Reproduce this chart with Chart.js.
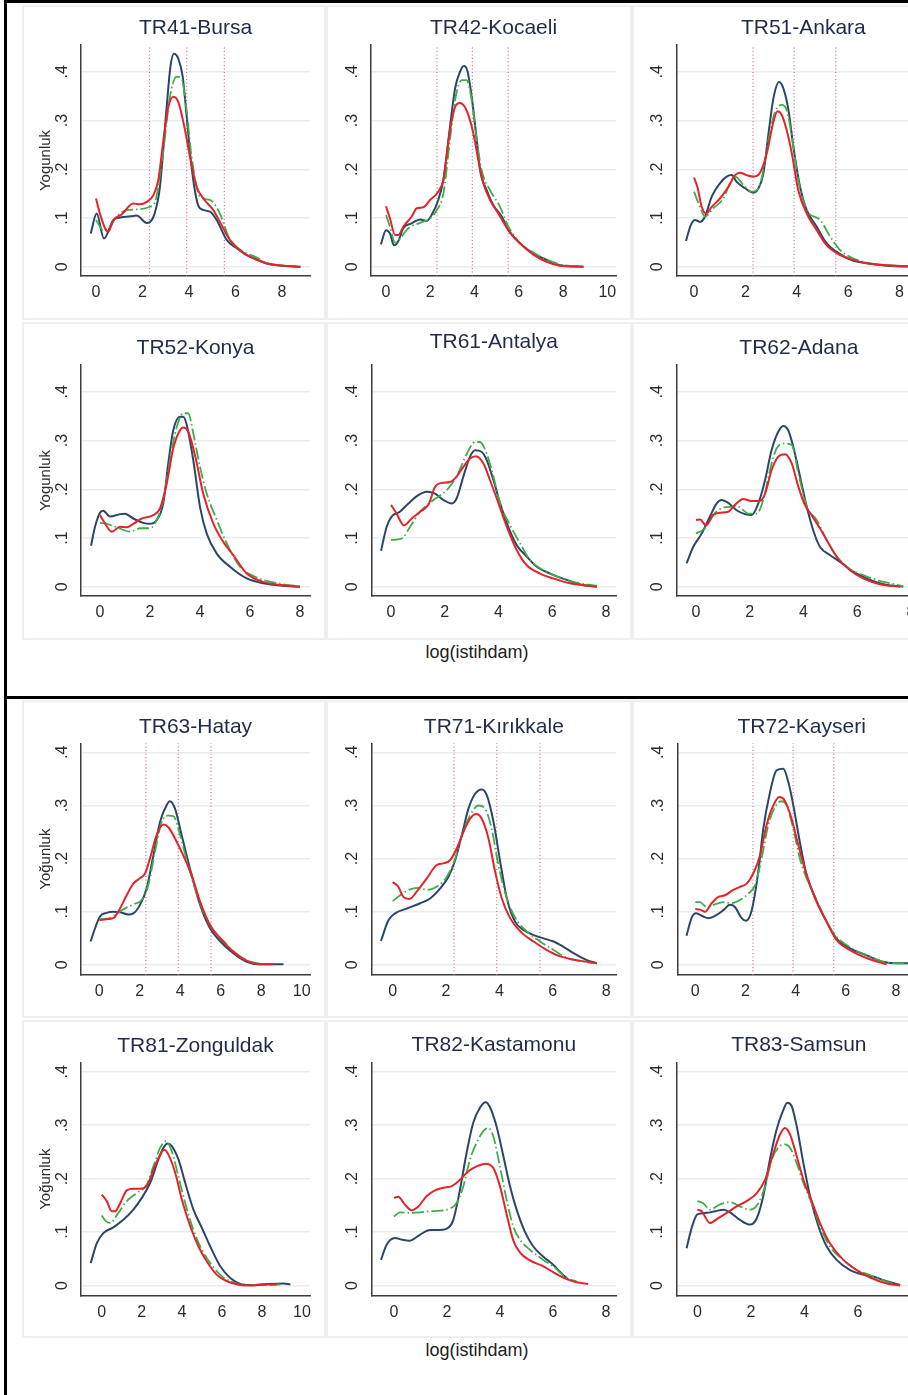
<!DOCTYPE html>
<html>
<head>
<meta charset="utf-8">
<script src="https://cdn.jsdelivr.net/npm/chart.js@4.4.1/dist/chart.umd.min.js"></script>
<style>
  html, body { margin: 0; padding: 0; background: #fff; }
  body { width: 908px; height: 1395px; overflow: hidden; position: relative; font-family: "Liberation Sans", Arial, sans-serif; }
  .box { position: absolute; border: 2px solid #edf0f3; box-sizing: border-box; }
  canvas { position: absolute; }
  .rule { position: absolute; background: #000; }
  .xtitle { position: absolute; width: 300px; text-align: center; font-size: 18px; line-height: 20px; color: #222; }
</style>
</head>
<body>
<div class="rule" style="left:4px;top:0;width:904px;height:3px"></div>
<div class="rule" style="left:4px;top:696px;width:904px;height:3px"></div>
<div class="rule" style="left:4px;top:0;width:3px;height:1395px"></div>
<div class="xtitle" style="left:327px;top:642px">log(istihdam)</div>
<div class="xtitle" style="left:327px;top:1340px">log(istihdam)</div>
<script>
(() => {
  if (!window.Chart) return;

  // density curves, [log(istihdam), density]
  const tr41Navy = [[-0.23,.068],[0.03,.109],[0.34,.058],[0.75,.096],[1.03,.101],[1.6,.104],[1.75,.105],[2.18,.09],[2.32,.092],[2.5,.106],[2.75,.164],[3.04,.328],[3.2,.41],[3.35,.437],[3.54,.427],[3.73,.39],[3.9,.308],[4.11,.205],[4.33,.137],[4.47,.12],[4.9,.113],[5.19,.096],[5.62,.055],[6.05,.038],[6.48,.024],[6.98,.014],[7.3,.007],[8.06,.002],[8.8,0]];
  const tr41Red = [[0,.14],[0.17,.109],[0.43,.075],[0.53,.072],[0.75,.096],[1.1,.107],[1.6,.13],[1.89,.128],[2.18,.133],[2.47,.147],[2.68,.178],[2.9,.26],[3.11,.328],[3.33,.349],[3.54,.338],[3.83,.28],[4.04,.226],[4.33,.164],[4.62,.14],[5.05,.116],[5.33,.092],[5.76,.055],[6.19,.034],[6.77,.017],[7.34,.007],[8.06,.002],[8.77,0]];
  const tr41Green = [[0,.096],[0.32,.075],[0.6,.082],[0.89,.103],[1.32,.116],[1.89,.118],[2.32,.123],[2.54,.133],[2.9,.24],[3.18,.349],[3.47,.39],[3.68,.386],[3.9,.32],[4.11,.226],[4.47,.144],[4.9,.137],[5.33,.109],[5.76,.055],[6.34,.031],[6.91,.019],[7.34,.007],[8.06,.002],[8.77,0]];

  const tr42Navy = [[-0.23,.046],[0,.075],[0.18,.068],[0.36,.044],[0.56,.053],[0.78,.079],[1.16,.089],[1.54,.097],[1.84,.094],[2.06,.106],[2.36,.137],[2.59,.178],[2.89,.287],[3.12,.366],[3.34,.4],[3.52,.412],[3.67,.403],[3.87,.349],[4.1,.26],[4.25,.198],[4.55,.157],[4.85,.126],[5.23,.103],[5.53,.075],[6.05,.048],[6.66,.027],[7.26,.014],[7.86,.003],[8.92,0]];
  const tr42Red = [[0,.124],[0.18,.099],[0.41,.065],[0.56,.065],[0.78,.082],[1.16,.103],[1.39,.12],[1.69,.122],[1.99,.137],[2.36,.154],[2.59,.178],[2.89,.28],[3.12,.328],[3.34,.336],[3.64,.321],[3.95,.273],[4.17,.219],[4.4,.171],[4.7,.137],[5.08,.109],[5.53,.075],[6.05,.048],[6.66,.025],[7.26,.01],[7.86,.002],[8.92,0]];
  const tr42Green = [[0,.106],[0.18,.082],[0.41,.049],[0.63,.058],[1.01,.079],[1.54,.09],[1.99,.099],[2.29,.116],[2.59,.15],[2.89,.26],[3.12,.342],[3.42,.383],[3.64,.383],[3.87,.342],[4.1,.26],[4.32,.198],[4.7,.157],[5.15,.123],[5.53,.082],[6.05,.049],[6.66,.029],[7.26,.015],[7.86,.005],[8.92,0]];

  const tr51Navy = [[-0.31,.053],[-0.13,.085],[0.04,.096],[0.23,.092],[0.43,.103],[0.69,.144],[1.01,.171],[1.27,.185],[1.47,.188],[1.66,.174],[1.99,.161],[2.31,.152],[2.51,.161],[2.7,.191],[2.9,.273],[3.09,.345],[3.31,.379],[3.48,.366],[3.68,.321],[3.87,.246],[4.13,.164],[4.39,.116],[4.78,.082],[5.17,.048],[5.69,.026],[6.21,.012],[6.73,.007],[7.51,.002],[8.8,0]];
  const tr51Red = [[0,.183],[0.13,.164],[0.3,.123],[0.47,.109],[0.69,.123],[1.01,.14],[1.34,.164],[1.6,.188],[1.79,.193],[2.05,.188],[2.31,.185],[2.57,.193],[2.83,.232],[3.06,.29],[3.25,.319],[3.42,.311],[3.61,.28],[3.81,.232],[4.06,.157],[4.39,.109],[4.78,.075],[5.17,.044],[5.69,.024],[6.21,.014],[6.73,.007],[7.51,.003],[8.8,0]];
  const tr51Green = [[0,.154],[0.23,.123],[0.43,.103],[0.75,.12],[1.14,.14],[1.4,.171],[1.6,.185],[1.92,.168],[2.25,.154],[2.51,.161],[2.7,.198],[2.9,.26],[3.16,.318],[3.42,.332],[3.61,.321],[3.81,.267],[4.06,.178],[4.39,.116],[4.91,.096],[5.3,.062],[5.69,.034],[6.21,.017],[6.86,.007],[8.8,0]];

  const tr52Navy = [[-0.36,.084],[-0.2,.123],[0,.152],[0.13,.156],[0.4,.144],[0.8,.149],[1,.15],[1.33,.14],[1.73,.131],[2,.129],[2.27,.137],[2.53,.171],[2.73,.253],[2.93,.321],[3.2,.349],[3.33,.349],[3.47,.332],[3.73,.26],[4,.164],[4.27,.109],[4.67,.068],[5.2,.041],[5.87,.017],[6.53,.007],[7.33,.002],[8,0]];
  const tr52Red = [[0,.147],[0.2,.13],[0.47,.113],[0.8,.123],[1.07,.122],[1.33,.129],[1.67,.14],[2.13,.147],[2.4,.161],[2.67,.212],[2.93,.284],[3.2,.321],[3.33,.327],[3.53,.318],[3.8,.27],[4.13,.191],[4.53,.13],[4.93,.092],[5.33,.065],[5.87,.027],[6.53,.01],[7.33,.003],[8,0]];
  const tr52Green = [[0,.131],[0.27,.129],[0.67,.122],[1.2,.113],[1.6,.12],[2,.12],[2.27,.137],[2.53,.178],[2.8,.26],[3.07,.328],[3.33,.356],[3.53,.356],[3.73,.315],[4,.246],[4.27,.191],[4.67,.137],[5.07,.089],[5.6,.041],[6.27,.019],[6.93,.009],[8,0]];

  const tr61Navy = [[-0.37,.074],[-0.16,.123],[0.02,.144],[0.33,.154],[0.65,.171],[0.96,.186],[1.33,.195],[1.64,.191],[1.95,.178],[2.26,.171],[2.44,.181],[2.69,.226],[2.94,.267],[3.13,.28],[3.37,.277],[3.56,.26],[3.81,.219],[4.06,.171],[4.31,.13],[4.68,.085],[5.05,.062],[5.42,.041],[5.92,.027],[6.54,.014],[7.16,.003],[7.66,0]];
  const tr61Red = [[0,.168],[0.21,.15],[0.48,.126],[0.77,.14],[1.08,.154],[1.39,.168],[1.64,.205],[1.89,.213],[2.2,.215],[2.44,.226],[2.69,.246],[2.94,.263],[3.16,.268],[3.44,.253],[3.68,.219],[4,.171],[4.31,.123],[4.68,.075],[5.05,.044],[5.55,.027],[6.04,.017],[6.66,.007],[7.66,0]];
  const tr61Green = [[0,.096],[0.4,.099],[0.71,.123],[1.08,.154],[1.58,.178],[2.07,.198],[2.44,.226],[2.82,.273],[3.13,.297],[3.31,.297],[3.56,.273],[3.81,.226],[4.06,.171],[4.43,.126],[4.8,.089],[5.17,.055],[5.67,.034],[6.17,.021],[6.78,.01],[7.66,.002]];

  const tr62Navy = [[-0.35,.048],[-0.1,.082],[0.21,.109],[0.52,.144],[0.77,.171],[0.95,.178],[1.2,.172],[1.51,.157],[1.82,.149],[2.07,.147],[2.32,.171],[2.57,.219],[2.81,.28],[3.06,.318],[3.25,.33],[3.43,.321],[3.62,.287],[3.87,.226],[4.12,.164],[4.36,.116],[4.61,.082],[4.98,.065],[5.36,.051],[5.85,.031],[6.35,.017],[6.97,.005],[7.71,0]];
  const tr62Red = [[0,.137],[0.15,.138],[0.37,.126],[0.64,.147],[0.89,.152],[1.2,.154],[1.45,.168],[1.76,.18],[2.07,.176],[2.38,.176],[2.57,.191],[2.81,.239],[3.06,.267],[3.31,.272],[3.56,.253],[3.81,.205],[4.05,.168],[4.3,.147],[4.61,.12],[4.86,.096],[5.23,.062],[5.73,.034],[6.22,.017],[6.84,.005],[7.59,0]];
  const tr62Green = [[0,.109],[0.33,.12],[0.64,.147],[0.95,.161],[1.26,.164],[1.57,.164],[1.95,.15],[2.26,.15],[2.5,.178],[2.75,.239],[3,.284],[3.31,.294],[3.56,.291],[3.81,.232],[4.12,.164],[4.49,.137],[4.86,.096],[5.23,.062],[5.73,.036],[6.22,.024],[6.72,.014],[7.71,.001]];

  const tr63Navy = [[-0.43,.044],[-0.21,.069],[0.03,.091],[0.36,.098],[0.69,.1],[1.02,.099],[1.43,.095],[1.68,.097],[2.01,.113],[2.34,.144],[2.67,.206],[3,.269],[3.33,.301],[3.49,.308],[3.74,.294],[4.07,.244],[4.48,.181],[4.98,.113],[5.47,.069],[5.96,.045],[6.62,.022],[7.28,.006],[7.94,.001],[8.6,.001],[9.1,.001]];
  const tr63Red = [[0,.084],[0.36,.086],[0.69,.088],[1.02,.106],[1.35,.131],[1.68,.153],[2.01,.163],[2.26,.172],[2.5,.2],[2.83,.244],[3.16,.264],[3.41,.259],[3.74,.238],[4.15,.206],[4.56,.169],[4.98,.119],[5.47,.075],[6.05,.047],[6.62,.025],[7.28,.008],[7.94,.001],[8.6,.001]];
  const tr63Green = [[0,.086],[0.53,.088],[1.02,.101],[1.68,.114],[2.09,.122],[2.42,.15],[2.75,.213],[3.08,.269],[3.41,.281],[3.66,.28],[3.99,.244],[4.32,.197],[4.73,.144],[5.14,.1],[5.55,.069],[6.13,.045],[6.79,.02],[7.45,.006],[8.27,.001]];

  const tr71Navy = [[-0.44,.045],[-0.16,.084],[0.09,.097],[0.53,.106],[1.03,.116],[1.4,.125],[1.78,.144],[2.09,.166],[2.34,.197],[2.59,.244],[2.84,.294],[3.09,.322],[3.34,.33],[3.53,.319],[3.78,.269],[4.03,.194],[4.28,.125],[4.59,.081],[4.9,.066],[5.28,.056],[5.65,.05],[6.03,.044],[6.4,.034],[6.78,.022],[7.28,.009],[7.65,.003]];
  const tr71Red = [[0,.156],[0.21,.147],[0.4,.128],[0.63,.124],[0.9,.138],[1.28,.163],[1.65,.188],[1.9,.191],[2.15,.197],[2.4,.219],[2.65,.25],[2.9,.275],[3.13,.284],[3.34,.275],[3.59,.238],[3.84,.175],[4.09,.125],[4.4,.088],[4.78,.063],[5.28,.044],[5.78,.028],[6.28,.016],[6.9,.009],[7.65,.003]];
  const tr71Green = [[0,.12],[0.28,.131],[0.59,.141],[0.96,.145],[1.28,.141],[1.65,.147],[2.03,.166],[2.34,.2],[2.59,.244],[2.9,.281],[3.21,.3],[3.46,.294],[3.71,.256],[3.96,.188],[4.28,.125],[4.65,.084],[5.03,.063],[5.53,.044],[6.03,.028],[6.53,.013],[7.15,.006],[7.65,.003]];

  const tr72Navy = [[-0.35,.055],[-0.15,.088],[0.03,.097],[0.32,.091],[0.52,.088],[0.85,.094],[1.12,.103],[1.38,.113],[1.58,.109],[1.85,.088],[2.02,.083],[2.25,.103],[2.51,.175],[2.71,.256],[2.98,.325],[3.24,.366],[3.51,.369],[3.71,.344],[3.91,.3],[4.17,.231],[4.44,.169],[4.84,.119],[5.24,.081],[5.63,.05],[6.17,.031],[6.83,.018],[7.49,.006],[8.03,.003],[8.48,.003]];
  const tr72Red = [[0,.105],[0.19,.104],[0.39,.1],[0.65,.116],[0.92,.128],[1.18,.131],[1.51,.141],[1.78,.147],[2.05,.153],[2.31,.172],[2.58,.206],[2.84,.263],[3.11,.3],[3.35,.316],[3.57,.309],[3.84,.275],[4.11,.225],[4.44,.169],[4.84,.119],[5.24,.081],[5.63,.047],[6.17,.028],[6.83,.013],[7.63,.001]];
  const tr72Green = [[0,.118],[0.19,.118],[0.45,.109],[0.72,.113],[1.12,.118],[1.45,.116],[1.78,.122],[2.11,.134],[2.38,.15],[2.64,.2],[2.91,.263],[3.18,.297],[3.44,.308],[3.64,.3],[3.91,.256],[4.17,.2],[4.44,.163],[4.84,.122],[5.24,.081],[5.63,.053],[6.3,.03],[6.96,.016],[7.63,.004],[8.48,.003]];

  const tr81Navy = [[-0.55,.042],[-0.25,.079],[0.08,.098],[0.58,.109],[1.08,.123],[1.58,.142],[2,.164],[2.42,.192],[2.83,.236],[3.08,.258],[3.3,.266],[3.5,.261],[3.83,.236],[4.17,.192],[4.58,.142],[5,.108],[5.42,.073],[5.92,.036],[6.42,.014],[6.92,.003],[7.42,.001],[8.25,.003],[9.08,.004],[9.42,.002]];
  const tr81Red = [[0,.17],[0.25,.158],[0.5,.139],[0.67,.139],[0.92,.154],[1.25,.178],[1.58,.181],[1.92,.181],[2.25,.186],[2.58,.217],[2.88,.242],[3.12,.254],[3.33,.245],[3.67,.211],[4,.161],[4.42,.111],[4.83,.073],[5.25,.045],[5.75,.02],[6.25,.008],[6.92,.001],[7.42,0],[8.25,.002],[8.75,.002]];
  const tr81Green = [[0,.131],[0.22,.12],[0.42,.117],[0.83,.136],[1.25,.158],[1.75,.173],[2.25,.189],[2.58,.223],[2.92,.258],[3.2,.27],[3.5,.251],[3.83,.204],[4.17,.154],[4.58,.104],[5,.067],[5.42,.042],[5.92,.02],[6.42,.008],[7.08,.001],[8.25,.001],[8.92,.002]];

  const tr82Navy = [[-0.49,.048],[-0.28,.076],[0.04,.089],[0.29,.086],[0.6,.084],[0.98,.095],[1.36,.104],[1.74,.104],[2.05,.108],[2.24,.123],[2.49,.179],[2.74,.248],[2.99,.304],[3.25,.333],[3.46,.343],[3.62,.334],[3.87,.298],[4.13,.242],[4.38,.186],[4.63,.142],[4.94,.101],[5.26,.073],[5.64,.054],[6.01,.039],[6.26,.026],[6.58,.011]];
  const tr82Red = [[0,.164],[0.16,.166],[0.42,.151],[0.67,.141],[0.92,.148],[1.23,.167],[1.55,.178],[1.86,.183],[2.18,.186],[2.49,.198],[2.81,.214],[3.12,.223],[3.46,.228],[3.75,.22],[4,.186],[4.25,.134],[4.5,.085],[4.75,.062],[5.13,.047],[5.64,.036],[6.01,.025],[6.52,.012],[6.89,.006],[7.33,.003]];
  const tr82Green = [[0,.129],[0.23,.137],[0.6,.136],[0.98,.137],[1.36,.139],[1.74,.14],[2.05,.143],[2.36,.154],[2.62,.186],[2.87,.236],[3.12,.267],[3.37,.289],[3.56,.295],[3.75,.279],[4,.223],[4.25,.161],[4.5,.111],[4.75,.086],[5.13,.067],[5.64,.048],[6.01,.036],[6.52,.014],[6.89,.008]];

  const tr83Navy = [[-0.4,.07],[-0.21,.108],[0,.133],[0.35,.136],[0.66,.139],[0.97,.142],[1.22,.137],[1.59,.123],[1.97,.114],[2.22,.126],[2.46,.167],[2.71,.236],[2.96,.292],[3.19,.326],[3.36,.342],[3.52,.336],[3.71,.298],[3.96,.229],[4.21,.167],[4.52,.111],[4.83,.073],[5.2,.048],[5.7,.029],[6.07,.022],[6.57,.017],[7.07,.008],[7.57,.001]];
  const tr83Red = [[0,.142],[0.16,.139],[0.47,.117],[0.78,.126],[1.1,.136],[1.47,.148],[1.84,.158],[2.22,.173],[2.53,.198],[2.84,.248],[3.09,.283],[3.27,.295],[3.46,.283],[3.71,.242],[3.96,.198],[4.27,.158],[4.58,.117],[4.95,.079],[5.45,.048],[5.95,.029],[6.45,.015],[7.07,.004],[7.57,0]];
  const tr83Green = [[0,.158],[0.22,.154],[0.47,.142],[0.85,.152],[1.22,.156],[1.59,.148],[1.97,.142],[2.28,.154],[2.53,.186],[2.78,.236],[3.02,.258],[3.27,.264],[3.46,.258],[3.71,.229],[3.96,.192],[4.27,.154],[4.58,.111],[4.95,.073],[5.45,.048],[5.95,.029],[6.32,.022],[6.82,.012],[7.32,.003],[7.57,0]];

  const regionNames = ['TR41-Bursa','TR42-Kocaeli','TR51-Ankara','TR52-Konya','TR61-Antalya','TR62-Adana',
                       'TR63-Hatay','TR71-Kırıkkale','TR72-Kayseri','TR81-Zonguldak','TR82-Kastamonu','TR83-Samsun'];
  const navySeries = [tr41Navy,tr42Navy,tr51Navy,tr52Navy,tr61Navy,tr62Navy,tr63Navy,tr71Navy,tr72Navy,tr81Navy,tr82Navy,tr83Navy];
  const redSeries = [tr41Red,tr42Red,tr51Red,tr52Red,tr61Red,tr62Red,tr63Red,tr71Red,tr72Red,tr81Red,tr82Red,tr83Red];
  const greenSeries = [tr41Green,tr42Green,tr51Green,tr52Green,tr61Green,tr62Green,tr63Green,tr71Green,tr72Green,tr81Green,tr82Green,tr83Green];
  const yTitles = ['Yogunluk','','','Yogunluk','','','Yoğunluk','','','Yoğunluk','',''];
  const hasCuts = [true,true,true,false,false,false,true,true,true,false,false,false];
  const xCuts = [2.3, 3.9, 5.52];

  const ticks8 = [0, 2, 4, 6, 8];
  const ticks10 = [0, 2, 4, 6, 8, 10];
  const xTickSets = [ticks8, ticks10, ticks8, ticks8, ticks8, ticks8, ticks10, ticks8, ticks8, ticks10, ticks8, ticks8];
  const xRanges = [[-0.645,9.204],[-0.678,10.39],[-0.674,9.19],[-0.76,8.4],[-0.718,8.37],[-0.718,8.37],
                   [-0.905,10.41],[-0.787,8.37],[-0.718,9.2],[-1.035,10.4],[-0.84,8.38],[-0.77,8.35]];
  const yTicks = [0, 0.1, 0.2, 0.3, 0.4];
  const yTickLabels = ['0', '.1', '.2', '.3', '.4'];
  const yRangeTop = [-0.019, 0.455];
  const yRangeBottom = [-0.019, 0.417];

  // page geometry: panel box [x, y, w, h], plot rect [left, top, right, bottom], title gap
  const boxes = [[22,5,304,315],[326,5,306,315],[632,5,308,315],
                 [22,322,304,318],[326,322,306,318],[632,322,308,318],
                 [22,700,304,318],[326,700,306,318],[632,700,308,318],
                 [22,1020,304,318],[326,1020,306,318],[632,1020,308,318]];
  const plots = [[81,45,310,276],[371,45,616,276],[676.7,45,930,276],
                 [81,365,310,596],[371.7,365,616,596],[676.7,365,921,596],
                 [81,743.3,310,975],[371.7,743.3,616,975],[677.3,743.3,926,975],
                 [81,1062.7,310,1295.7],[371.7,1062.7,616,1295.7],[676.7,1062.7,921,1295.7]];
  const titleGaps = [17,17,17,17,23,17,16,16,16,16,17,17];

  const NAVY = '#2c4766', RED = '#e3242b', GREEN = '#3fae49', CUT = '#cf6f82';
  const INK = '#2b2b2b', AXIS = '#3c3c3c';
  Chart.defaults.font.family = '"Liberation Sans", Arial, sans-serif';

  const TITLE_SIZE = 21, TITLE_LH = TITLE_SIZE * 1.2;
  const XH = 30;

  regionNames.forEach((name, i) => {
    const [bx, by, bw, bh] = boxes[i];
    const [L, T, R, B] = plots[i];
    const yr = i < 6 ? yRangeTop : yRangeBottom;
    const yw = yTitles[i] ? 50 : 40;
    const pb = titleGaps[i] - TITLE_LH / 2;

    const box = document.createElement('div');
    box.className = 'box';
    box.style.cssText = `left:${bx}px;top:${by}px;width:${bw}px;height:${bh}px`;
    document.body.appendChild(box);

    const cv = document.createElement('canvas');
    cv.width = bw; cv.height = bh;
    cv.style.left = bx + 'px'; cv.style.top = by + 'px';
    document.body.appendChild(cv);

    const datasets = [];
    if (hasCuts[i]) {
      xCuts.forEach(c => datasets.push({
        data: [[c, yr[0]], [c, yr[1]]], borderColor: CUT, borderWidth: 1.2,
        borderDash: [1, 2.5], order: 4, cubicInterpolationMode: 'default', tension: 0
      }));
    }
    datasets.push({ data: navySeries[i], borderColor: NAVY, borderWidth: 2, order: 3 });
    datasets.push({ data: greenSeries[i], borderColor: GREEN, borderWidth: 1.8, borderDash: [12, 3, 1.5, 3], order: 2 });
    datasets.push({ data: redSeries[i], borderColor: RED, borderWidth: 2, order: 1 });

    new Chart(cv, {
      type: 'line',
      data: { datasets },
      options: {
        responsive: false,
        animation: false,
        events: [],
        layout: { padding: { left: L - bx - yw, right: bx + bw - R, top: T - by - (TITLE_LH + pb), bottom: by + bh - B - XH } },
        elements: {
          point: { radius: 0 },
          line: { cubicInterpolationMode: 'monotone', borderJoinStyle: 'round', fill: false }
        },
        plugins: {
          legend: { display: false },
          tooltip: { enabled: false },
          title: {
            display: true, text: name, fullSize: false, color: '#1f2b48',
            font: { size: TITLE_SIZE, weight: 'normal' }, padding: { top: 0, bottom: pb }
          }
        },
        scales: {
          x: {
            type: 'linear', min: xRanges[i][0], max: xRanges[i][1],
            afterFit: s => { s.height = XH; },
            afterBuildTicks: s => { s.ticks = xTickSets[i].map(v => ({ value: v })); },
            grid: { display: false, drawTicks: false },
            border: { display: true, color: AXIS, width: 1.5 },
            ticks: { padding: 7, color: INK, font: { size: 16 }, maxRotation: 0, callback: v => String(v) }
          },
          y: {
            type: 'linear', min: yr[0], max: yr[1],
            afterFit: s => { s.width = yw; },
            afterBuildTicks: s => { s.ticks = yTicks.map(v => ({ value: v })); },
            grid: { color: '#e9ecef', lineWidth: 1.5, drawTicks: false },
            border: { display: true, color: AXIS, width: 1.5 },
            ticks: { minRotation: 90, maxRotation: 90, crossAlign: 'center', padding: 12, color: INK,
                     font: { size: 16 }, callback: (v, idx) => yTickLabels[idx] },
            title: { display: !!yTitles[i], text: yTitles[i], color: INK, font: { size: 15 },
                     padding: { top: 45.5 - (L - yw) - 9, bottom: 0 } }
          }
        }
      }
    });
  });
})();
</script>
</body>
</html>
